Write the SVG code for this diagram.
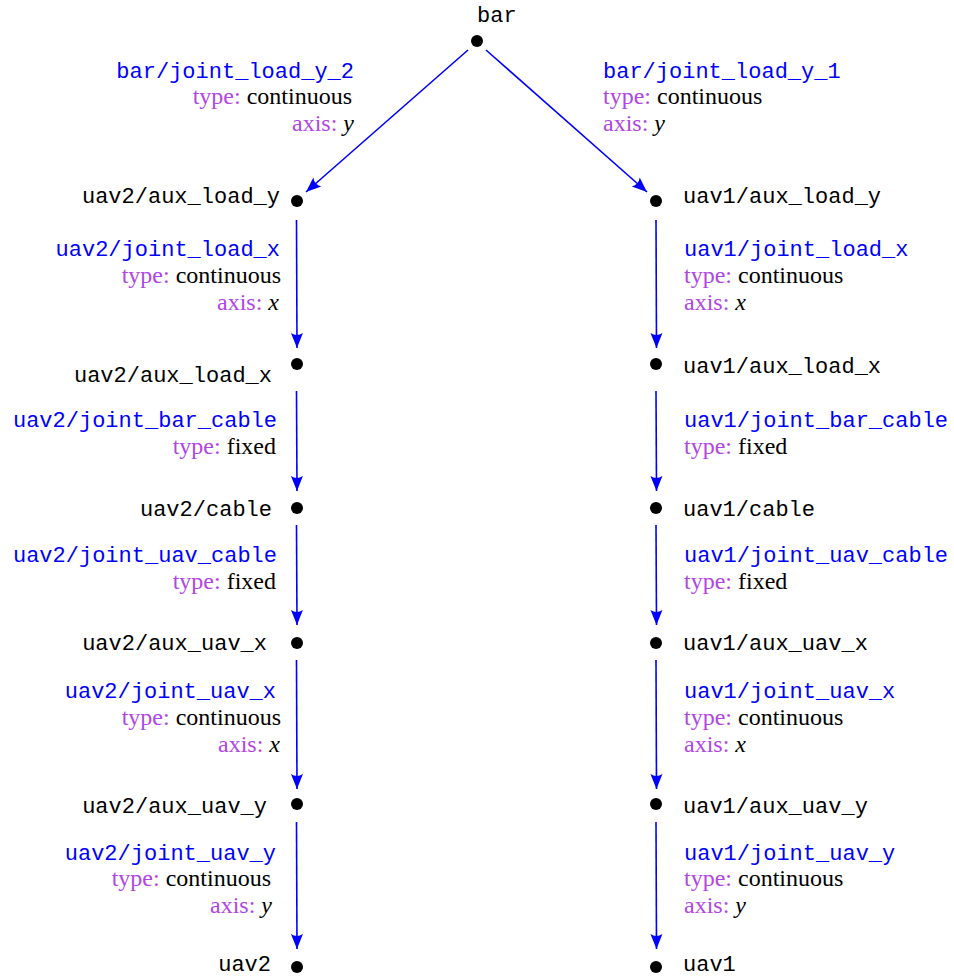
<svg xmlns="http://www.w3.org/2000/svg" width="954" height="977" viewBox="0 0 954 977">
  <style>
    .node { font-family: "Liberation Mono", "DejaVu Sans Mono", monospace; font-size: 22px; fill: #000; }
    .joint { font-family: "Liberation Mono", "DejaVu Sans Mono", monospace; font-size: 22px; fill: #0000ff; }
    .prop { font-family: "Liberation Serif", "Times New Roman", serif; font-size: 24px; fill: #000; }
    .key { fill: #b146e6; }
    .var { font-style: italic; }
    .end { text-anchor: end; }
    .dot { fill: #000; }
    .edge { stroke: #0000ff; stroke-width: 1.6; fill: none; marker-end: url(#arrow); }
  </style>
  <defs>
    <marker id="arrow" viewBox="-16 -7 17 14" refX="0" refY="0" markerWidth="17" markerHeight="14" markerUnits="userSpaceOnUse" orient="auto">
      <path d="M0,0 L-15,-6 Q-11,0 -15,6 Z" fill="#0000ff"/>
    </marker>
  </defs>

  <rect width="954" height="977" fill="#fff"/>

  <!-- connectors (joints) -->
  <g id="edges">
    <line class="edge" x1="468" y1="50" x2="306" y2="192"/>
    <line class="edge" x1="486" y1="50" x2="647" y2="192"/>

    <line class="edge" x1="296.5" y1="220" x2="297" y2="348"/>
    <line class="edge" x1="296.5" y1="391" x2="297" y2="491"/>
    <line class="edge" x1="296.5" y1="525" x2="297" y2="625"/>
    <line class="edge" x1="296.5" y1="660" x2="297" y2="789"/>
    <line class="edge" x1="296.5" y1="822" x2="297" y2="949"/>

    <line class="edge" x1="656" y1="220" x2="656.5" y2="348"/>
    <line class="edge" x1="656" y1="391" x2="656.5" y2="491"/>
    <line class="edge" x1="656" y1="525" x2="656.5" y2="625"/>
    <line class="edge" x1="656" y1="660" x2="656.5" y2="789"/>
    <line class="edge" x1="656" y1="822" x2="656.5" y2="949"/>
  </g>

  <!-- joint labels -->
  <g id="joint-labels">
    <g id="j-bar-joint-load-y-2">
      <text class="joint end" x="354" y="78">bar/joint_load_y_2</text>
      <text class="prop end" x="352" y="104"><tspan class="key">type:</tspan> continuous</text>
      <text class="prop end" x="354" y="131"><tspan class="key">axis:</tspan> <tspan class="var">y</tspan></text>
    </g>
    <g id="j-bar-joint-load-y-1">
      <text class="joint" x="603" y="78">bar/joint_load_y_1</text>
      <text class="prop" x="603" y="104"><tspan class="key">type:</tspan> continuous</text>
      <text class="prop" x="603" y="131"><tspan class="key">axis:</tspan> <tspan class="var">y</tspan></text>
    </g>

    <g id="j-uav2-joint-load-x">
      <text class="joint end" x="280" y="256">uav2/joint_load_x</text>
      <text class="prop end" x="281" y="283"><tspan class="key">type:</tspan> continuous</text>
      <text class="prop end" x="279" y="310"><tspan class="key">axis:</tspan> <tspan class="var">x</tspan></text>
    </g>
    <g id="j-uav2-joint-bar-cable">
      <text class="joint end" x="277" y="427">uav2/joint_bar_cable</text>
      <text class="prop end" x="276" y="454"><tspan class="key">type:</tspan> fixed</text>
    </g>
    <g id="j-uav2-joint-uav-cable">
      <text class="joint end" x="277" y="562">uav2/joint_uav_cable</text>
      <text class="prop end" x="276" y="589"><tspan class="key">type:</tspan> fixed</text>
    </g>
    <g id="j-uav2-joint-uav-x">
      <text class="joint end" x="276" y="698">uav2/joint_uav_x</text>
      <text class="prop end" x="281" y="725"><tspan class="key">type:</tspan> continuous</text>
      <text class="prop end" x="280" y="752"><tspan class="key">axis:</tspan> <tspan class="var">x</tspan></text>
    </g>
    <g id="j-uav2-joint-uav-y">
      <text class="joint end" x="276" y="860">uav2/joint_uav_y</text>
      <text class="prop end" x="271" y="886"><tspan class="key">type:</tspan> continuous</text>
      <text class="prop end" x="272" y="913"><tspan class="key">axis:</tspan> <tspan class="var">y</tspan></text>
    </g>

    <g id="j-uav1-joint-load-x">
      <text class="joint" x="684" y="256">uav1/joint_load_x</text>
      <text class="prop" x="684" y="283"><tspan class="key">type:</tspan> continuous</text>
      <text class="prop" x="684" y="310"><tspan class="key">axis:</tspan> <tspan class="var">x</tspan></text>
    </g>
    <g id="j-uav1-joint-bar-cable">
      <text class="joint" x="684" y="427">uav1/joint_bar_cable</text>
      <text class="prop" x="684" y="454"><tspan class="key">type:</tspan> fixed</text>
    </g>
    <g id="j-uav1-joint-uav-cable">
      <text class="joint" x="684" y="562">uav1/joint_uav_cable</text>
      <text class="prop" x="684" y="589"><tspan class="key">type:</tspan> fixed</text>
    </g>
    <g id="j-uav1-joint-uav-x">
      <text class="joint" x="684" y="698">uav1/joint_uav_x</text>
      <text class="prop" x="684" y="725"><tspan class="key">type:</tspan> continuous</text>
      <text class="prop" x="684" y="752"><tspan class="key">axis:</tspan> <tspan class="var">x</tspan></text>
    </g>
    <g id="j-uav1-joint-uav-y">
      <text class="joint" x="684" y="860">uav1/joint_uav_y</text>
      <text class="prop" x="684" y="886"><tspan class="key">type:</tspan> continuous</text>
      <text class="prop" x="684" y="913"><tspan class="key">axis:</tspan> <tspan class="var">y</tspan></text>
    </g>
  </g>

  <!-- links (nodes) -->
  <g id="n-bar"><circle class="dot" cx="477" cy="41" r="6"/><text class="node" x="477" y="22">bar</text></g>

  <g id="n-uav2-aux-load-y"><circle class="dot" cx="297" cy="201" r="6"/><text class="node end" x="280" y="203">uav2/aux_load_y</text></g>
  <g id="n-uav2-aux-load-x"><circle class="dot" cx="297" cy="364" r="6"/><text class="node end" x="272" y="382">uav2/aux_load_x</text></g>
  <g id="n-uav2-cable"><circle class="dot" cx="297" cy="508" r="6"/><text class="node end" x="272" y="516">uav2/cable</text></g>
  <g id="n-uav2-aux-uav-x"><circle class="dot" cx="297" cy="643" r="6"/><text class="node end" x="267" y="650">uav2/aux_uav_x</text></g>
  <g id="n-uav2-aux-uav-y"><circle class="dot" cx="297" cy="804" r="6"/><text class="node end" x="267" y="813">uav2/aux_uav_y</text></g>
  <g id="n-uav2"><circle class="dot" cx="297" cy="967" r="6"/><text class="node end" x="271" y="971">uav2</text></g>

  <g id="n-uav1-aux-load-y"><circle class="dot" cx="656" cy="201" r="6"/><text class="node" x="683" y="203">uav1/aux_load_y</text></g>
  <g id="n-uav1-aux-load-x"><circle class="dot" cx="656" cy="364" r="6"/><text class="node" x="683" y="373">uav1/aux_load_x</text></g>
  <g id="n-uav1-cable"><circle class="dot" cx="656" cy="508" r="6"/><text class="node" x="683" y="516">uav1/cable</text></g>
  <g id="n-uav1-aux-uav-x"><circle class="dot" cx="656" cy="643" r="6"/><text class="node" x="683" y="650">uav1/aux_uav_x</text></g>
  <g id="n-uav1-aux-uav-y"><circle class="dot" cx="656" cy="804" r="6"/><text class="node" x="683" y="813">uav1/aux_uav_y</text></g>
  <g id="n-uav1"><circle class="dot" cx="656" cy="967" r="6"/><text class="node" x="683" y="971">uav1</text></g>
</svg>
